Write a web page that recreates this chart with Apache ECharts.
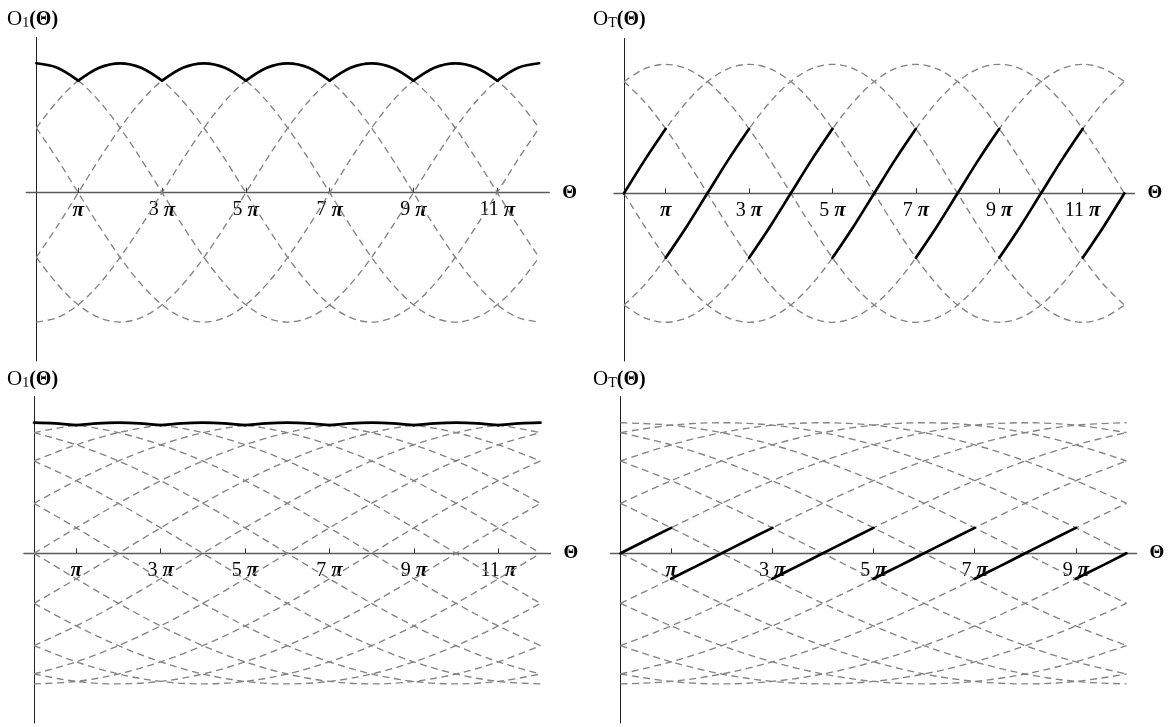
<!DOCTYPE html>
<html><head><meta charset="utf-8">
<script src="https://cdn.jsdelivr.net/npm/echarts@6/dist/echarts.min.js"></script>
<style>html,body{margin:0;padding:0;background:#fff}#c{width:1174px;height:727px}</style>
</head><body><div id="c"></div><script>
// ---- DATA (Θ in units of π) ----
const thetaHalf = [0,0.5,1,1.5,2,2.5,3,3.5,4,4.5,5,5.5,6,6.5,7,7.5,8,8.5,9,9.5,10,10.5,11,11.5,12];
const thetaBL = [0,1,2,3,4,5,6,7,8,9,10,11,12];
const thetaBR = [0,1,2,3,4,5,6,7,8,9,10];

const ticksTwelve = [1,3,5,7,9,11];
const labelsTwelve = ['π','3 π','5 π','7 π','9 π','11 π'];
const ticksTen = [1,3,5,7,9];
const labelsTen = ['π','3 π','5 π','7 π','9 π'];

// top-left dashed curves
const tl0 = [1,.966,.866,.707,.5,.259,0,-.259,-.5,-.707,-.866,-.966,-1,-.966,-.866,-.707,-.5,-.259,0,.259,.5,.707,.866,.966,1];
const tl1 = [.5,.259,0,-.259,-.5,-.707,-.866,-.966,-1,-.966,-.866,-.707,-.5,-.259,0,.259,.5,.707,.866,.966,1,.966,.866,.707,.5];
const tl2 = [-.5,-.707,-.866,-.966,-1,-.966,-.866,-.707,-.5,-.259,0,.259,.5,.707,.866,.966,1,.966,.866,.707,.5,.259,0,-.259,-.5];
const tl3 = [-1,-.966,-.866,-.707,-.5,-.259,0,.259,.5,.707,.866,.966,1,.966,.866,.707,.5,.259,0,-.259,-.5,-.707,-.866,-.966,-1];
const tl4 = [-.5,-.259,0,.259,.5,.707,.866,.966,1,.966,.866,.707,.5,.259,0,-.259,-.5,-.707,-.866,-.966,-1,-.966,-.866,-.707,-.5];
const tl5 = [.5,.707,.866,.966,1,.966,.866,.707,.5,.259,0,-.259,-.5,-.707,-.866,-.966,-1,-.966,-.866,-.707,-.5,-.259,0,.259,.5];

// top-right dashed curves
const tr0 = [0,.259,.5,.707,.866,.966,1,.966,.866,.707,.5,.259,0,-.259,-.5,-.707,-.866,-.966,-1,-.966,-.866,-.707,-.5,-.259,0];
const tr1 = [.866,.966,1,.966,.866,.707,.5,.259,0,-.259,-.5,-.707,-.866,-.966,-1,-.966,-.866,-.707,-.5,-.259,0,.259,.5,.707,.866];
const tr2 = [.866,.707,.5,.259,0,-.259,-.5,-.707,-.866,-.966,-1,-.966,-.866,-.707,-.5,-.259,0,.259,.5,.707,.866,.966,1,.966,.866];
const tr3 = [0,-.259,-.5,-.707,-.866,-.966,-1,-.966,-.866,-.707,-.5,-.259,0,.259,.5,.707,.866,.966,1,.966,.866,.707,.5,.259,0];
const tr4 = [-.866,-.966,-1,-.966,-.866,-.707,-.5,-.259,0,.259,.5,.707,.866,.966,1,.966,.866,.707,.5,.259,0,-.259,-.5,-.707,-.866];
const tr5 = [-.866,-.707,-.5,-.259,0,.259,.5,.707,.866,.966,1,.966,.866,.707,.5,.259,0,-.259,-.5,-.707,-.866,-.966,-1,-.966,-.866];

// bottom-left dashed curves
const bl0 = [1,.981,.924,.831,.707,.556,.383,.195,0,-.195,-.383,-.556,-.707];
const bl1 = [.924,.831,.707,.556,.383,.195,0,-.195,-.383,-.556,-.707,-.831,-.924];
const bl2 = [.707,.556,.383,.195,0,-.195,-.383,-.556,-.707,-.831,-.924,-.981,-1];
const bl3 = [.383,.195,0,-.195,-.383,-.556,-.707,-.831,-.924,-.981,-1,-.981,-.924];
const bl4 = [0,-.195,-.383,-.556,-.707,-.831,-.924,-.981,-1,-.981,-.924,-.831,-.707];
const bl5 = [-.383,-.556,-.707,-.831,-.924,-.981,-1,-.981,-.924,-.831,-.707,-.556,-.383];
const bl6 = [-.707,-.831,-.924,-.981,-1,-.981,-.924,-.831,-.707,-.556,-.383,-.195,0];
const bl7 = [-.924,-.981,-1,-.981,-.924,-.831,-.707,-.556,-.383,-.195,0,.195,.383];
const bl8 = [-1,-.981,-.924,-.831,-.707,-.556,-.383,-.195,0,.195,.383,.556,.707];
const bl9 = [-.924,-.831,-.707,-.556,-.383,-.195,0,.195,.383,.556,.707,.831,.924];
const bl10 = [-.707,-.556,-.383,-.195,0,.195,.383,.556,.707,.831,.924,.981,1];
const bl11 = [-.383,-.195,0,.195,.383,.556,.707,.831,.924,.981,1,.981,.924];
const bl12 = [0,.195,.383,.556,.707,.831,.924,.981,1,.981,.924,.831,.707];
const bl13 = [.383,.556,.707,.831,.924,.981,1,.981,.924,.831,.707,.556,.383];
const bl14 = [.707,.831,.924,.981,1,.981,.924,.831,.707,.556,.383,.195,0];
const bl15 = [.924,.981,1,.981,.924,.831,.707,.556,.383,.195,0,-.195,-.383];

// bottom-right dashed curves
const br0 = [0,.195,.383,.556,.707,.831,.924,.981,1,.981,.924];
const br1 = [.383,.556,.707,.831,.924,.981,1,.981,.924,.831,.707];
const br2 = [.707,.831,.924,.981,1,.981,.924,.831,.707,.556,.383];
const br3 = [.924,.981,1,.981,.924,.831,.707,.556,.383,.195,0];
const br4 = [1,.981,.924,.831,.707,.556,.383,.195,0,-.195,-.383];
const br5 = [.924,.831,.707,.556,.383,.195,0,-.195,-.383,-.556,-.707];
const br6 = [.707,.556,.383,.195,0,-.195,-.383,-.556,-.707,-.831,-.924];
const br7 = [.383,.195,0,-.195,-.383,-.556,-.707,-.831,-.924,-.981,-1];
const br8 = [0,-.195,-.383,-.556,-.707,-.831,-.924,-.981,-1,-.981,-.924];
const br9 = [-.383,-.556,-.707,-.831,-.924,-.981,-1,-.981,-.924,-.831,-.707];
const br10 = [-.707,-.831,-.924,-.981,-1,-.981,-.924,-.831,-.707,-.556,-.383];
const br11 = [-.924,-.981,-1,-.981,-.924,-.831,-.707,-.556,-.383,-.195,0];
const br12 = [-1,-.981,-.924,-.831,-.707,-.556,-.383,-.195,0,.195,.383];
const br13 = [-.924,-.831,-.707,-.556,-.383,-.195,0,.195,.383,.556,.707];
const br14 = [-.707,-.556,-.383,-.195,0,.195,.383,.556,.707,.831,.924];
const br15 = [-.383,-.195,0,.195,.383,.556,.707,.831,.924,.981,1];

// solid curves (repeated Θ marks a corner / jump)
const solidThetaTwelve = [0,0.5,1, 1,1.5,2,2.5,3, 3,3.5,4,4.5,5, 5,5.5,6,6.5,7, 7,7.5,8,8.5,9, 9,9.5,10,10.5,11, 11,11.5,12];
const solidThetaTen = [0,0.5,1, 1,1.5,2,2.5,3, 3,3.5,4,4.5,5, 5,5.5,6,6.5,7, 7,7.5,8,8.5,9, 9,9.5,10];
const o1Top = [1,.966,.866, .866,.966,1,.966,.866, .866,.966,1,.966,.866, .866,.966,1,.966,.866, .866,.966,1,.966,.866, .866,.966,1,.966,.866, .866,.966,1];
const oTTop = [0,.259,.5, -.5,-.259,0,.259,.5, -.5,-.259,0,.259,.5, -.5,-.259,0,.259,.5, -.5,-.259,0,.259,.5, -.5,-.259,0,.259,.5, -.5,-.259,0];
const o1Bottom = [1,.995,.981, .981,.995,1,.995,.981, .981,.995,1,.995,.981, .981,.995,1,.995,.981, .981,.995,1,.995,.981, .981,.995,1,.995,.981, .981,.995,1];
const oTBottom = [0,.098,.195, -.195,-.098,0,.098,.195, -.195,-.098,0,.098,.195, -.195,-.098,0,.098,.195, -.195,-.098,0,.098,.195, -.195,-.098,0];

// ---- CHART ----
const SERIF = "'Liberation Serif','DejaVu Serif',serif";
const Y_MIN = -1.3, Y_MAX = 1.2;
const panels = [
  {grid:{left:26.3, top:37.4, width:522.9, height:323.5}, xMin:-0.24, xMax:12.24,
   theta:thetaHalf, curves:[tl0,tl1,tl2,tl3,tl4,tl5], sTheta:solidThetaTwelve, solid:o1Top,
   ticks:ticksTwelve, labels:labelsTwelve, title:'{o|O}{s|1}{p|(Θ)}', tl:[2,2]},
  {grid:{left:614.0, top:38.5, width:520.4, height:322.5}, xMin:-0.24, xMax:12.24,
   theta:thetaHalf, curves:[tr0,tr1,tr2,tr3,tr4,tr5], sTheta:solidThetaTwelve, solid:oTTop,
   ticks:ticksTwelve, labels:labelsTwelve, title:'{o|O}{s|T}{p|(Θ)}', tl:[588,2]},
  {grid:{left:23.9, top:396.6, width:526.7, height:326.5}, xMin:-0.24, xMax:12.24,
   theta:thetaBL, curves:[bl0,bl1,bl2,bl3,bl4,bl5,bl6,bl7,bl8,bl9,bl10,bl11,bl12,bl13,bl14,bl15], sTheta:solidThetaTwelve, solid:o1Bottom,
   ticks:ticksTwelve, labels:labelsTwelve, title:'{o|O}{s|1}{p|(Θ)}', tl:[2,362]},
  {grid:{left:610.4, top:396.6, width:526.2, height:326.5}, xMin:-0.2, xMax:10.2,
   theta:thetaBR, curves:[br0,br1,br2,br3,br4,br5,br6,br7,br8,br9,br10,br11,br12,br13,br14,br15], sTheta:solidThetaTen, solid:oTBottom,
   ticks:ticksTen, labels:labelsTen, title:'{o|O}{s|T}{p|(Θ)}', tl:[588,362]}
];

const grids = [], xAxes = [], yAxes = [], series = [], titles = [];
panels.forEach((p, gi) => {
  grids.push(Object.assign({containLabel:false}, p.grid));
  // distance (px) from grid bottom up to y=0 and from grid left to x=0
  const offY = p.grid.height * (0 - Y_MIN) / (Y_MAX - Y_MIN);
  const offX = p.grid.width * (0 - p.xMin) / (p.xMax - p.xMin);
  xAxes.push({
    type:'value', gridIndex:gi, min:p.xMin, max:p.xMax, position:'bottom', offset:-offY,
    axisLine:{show:true, onZero:false, lineStyle:{color:'#5a5a5a', width:1.4}},
    axisTick:{show:true, inside:true, length:5, customValues:p.ticks, lineStyle:{color:'#333', width:1}},
    axisLabel:{show:true, customValues:p.ticks, margin:7,
      formatter:(v)=>{const i=p.ticks.indexOf(Math.round(v)); const s=i>=0?p.labels[i]:'';
        return s.replace(/(\d+) /,'{n|$1}').replace('π','{p|π}');},
      rich:{n:{fontFamily:SERIF, fontSize:20, color:'#000', padding:[0,5,0,0]},
            p:{fontFamily:SERIF, fontSize:21, fontWeight:'bold', fontStyle:'italic', color:'#000'}}},
    splitLine:{show:false},
    name:'Θ', nameLocation:'end', nameGap:13,
    nameTextStyle:{fontFamily:SERIF, fontSize:19, fontWeight:'bold', color:'#000'}
  });
  yAxes.push({
    type:'value', gridIndex:gi, min:Y_MIN, max:Y_MAX, position:'left', offset:-offX,
    axisLine:{show:true, onZero:false, lineStyle:{color:'#222', width:1}},
    axisTick:{show:false}, axisLabel:{show:false}, splitLine:{show:false}
  });
  p.curves.forEach(c => {
    series.push({type:'line', xAxisIndex:gi, yAxisIndex:gi, showSymbol:false, smooth:0.33, silent:true,
      data:p.theta.map((t,i)=>[t,c[i]]),
      lineStyle:{color:'#838383', width:1.35, type:[7,4.5]}, z:2});
  });
  let seg = [];
  const flush = () => { if (seg.length) series.push({type:'line', xAxisIndex:gi, yAxisIndex:gi, showSymbol:false, smooth:0.33, silent:true,
      data:seg, lineStyle:{color:'#000', width:2.7, cap:'round'}, z:5}); seg = []; };
  p.sTheta.forEach((t,i) => {
    if (i>0 && t===p.sTheta[i-1]) flush();
    seg.push([t, p.solid[i]]);
  });
  flush();
  titles.push({left:p.tl[0], top:p.tl[1], text:p.title,
    textStyle:{fontWeight:'normal', rich:{
      o:{fontFamily:SERIF, fontSize:21, fontWeight:'normal', color:'#000', verticalAlign:'bottom', lineHeight:23},
      s:{fontFamily:SERIF, fontSize:14, fontWeight:'normal', color:'#000', verticalAlign:'bottom', lineHeight:19},
      p:{fontFamily:SERIF, fontSize:20, fontWeight:'bold', color:'#000', verticalAlign:'bottom', lineHeight:23}}}});
});

const chart = echarts.init(document.getElementById('c'), null, {renderer:'canvas'});
chart.setOption({animation:false, backgroundColor:'#fff', title:titles, grid:grids, xAxis:xAxes, yAxis:yAxes, series:series});
</script></body></html>
